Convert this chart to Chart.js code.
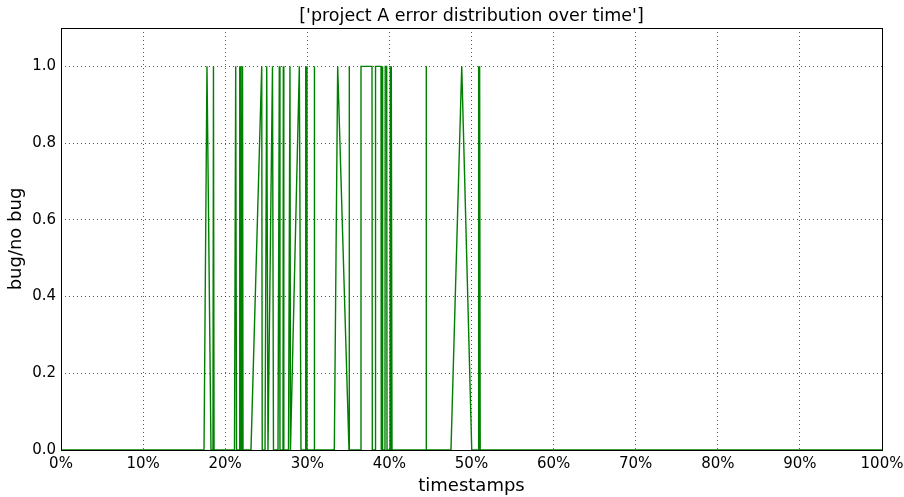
<!DOCTYPE html>
<html>
<head>
<meta charset="utf-8">
<script src="https://cdn.jsdelivr.net/npm/chart.js@4"></script>
<style>
  html, body { margin: 0; padding: 0; background: #fff; }
  #wrap { width: 904px; height: 497px; }
</style>
</head>
<body>
<div id="wrap"><canvas id="errChart" width="904" height="497"></canvas></div>
<script>
// timestamp position (% of time range) and bug flag (1 = bug, 0 = no bug)
const timestamps = [
  0, 17.42, 17.78, 18.27, 18.51, 18.57, 18.64,
  21.13, 21.28, 21.38, 21.72, 21.77, 21.86, 21.92, 22.05, 22.11, 22.17,
  23.14, 24.45, 24.51, 24.85, 25.06, 25.21, 25.76, 25.88,
  26.43, 26.59, 26.67, 27.04, 27.08, 27.14, 27.71, 27.89, 27.95,
  29.03, 29.23, 29.72, 29.78, 29.84, 29.90, 29.96,
  30.82, 30.85, 30.89, 33.29, 33.70, 35.08, 35.10, 35.13,
  36.50, 36.54, 37.88, 37.92, 38.25, 38.31, 38.98, 39.01, 39.10, 39.13, 39.22,
  39.46, 39.49, 39.67, 39.71, 40.07, 40.11, 40.19, 40.23, 40.32,
  44.46, 44.48, 44.51, 47.50, 48.81, 50.03,
  50.83, 50.87, 50.95, 50.99, 51.06, 100
];
const bugFlags = [
  0, 0, 1, 0, 0, 1, 0,
  0, 1, 0, 0, 1, 0, 1, 0, 1, 0,
  0, 1, 0, 0, 1, 0, 1, 0,
  0, 1, 0, 0, 1, 0, 0, 1, 0,
  1, 0, 0, 1, 0, 1, 0,
  0, 1, 0, 0, 1, 0, 1, 0,
  0, 1, 1, 0, 0, 1, 1, 0, 0, 1, 0,
  0, 1, 1, 0, 0, 1, 0, 1, 0,
  0, 1, 0, 0, 1, 0,
  0, 1, 0, 1, 0, 0
];
const xTicks = [0, 10, 20, 30, 40, 50, 60, 70, 80, 90, 100];
const yTicks = [0, 0.2, 0.4, 0.6, 0.8, 1.0];

const FONT = "'DejaVu Sans', sans-serif";

function setupChart() {
  let points = timestamps.map((t, i) => ({x: t, y: bugFlags[i]}));

  const frame = {
    id: 'frame',
    afterDraw(chart) {
      const a = chart.chartArea, c = chart.ctx;
      c.save();
      c.strokeStyle = '#000';
      c.lineWidth = 1;
      c.strokeRect(Math.round(a.left) + 0.5, Math.round(a.top) + 0.5,
                   Math.round(a.right - a.left), Math.round(a.bottom - a.top));
      c.restore();
    }
  };

  let ctx = document.getElementById('errChart');
  new Chart(ctx, {
    type: 'line',
    data: {
      datasets: [{
        label: 'bug',
        data: points,
        borderColor: '#008000',
        borderWidth: 1.4,
        pointRadius: 0,
        tension: 0,
        fill: false,
        clip: 4
      }]
    },
    options: {
      responsive: false,
      animation: { duration: 0 },
      layout: { padding: { left: 0, right: 22, top: 0, bottom: 0 } },
      plugins: {
        legend: { display: false },
        tooltip: { enabled: false },
        title: {
          display: true,
          fullSize: false,
          text: "['project A error distribution over time']",
          color: '#000',
          font: { family: FONT, size: 17.5, weight: 'normal', lineHeight: 1.2 },
          padding: { top: 6, bottom: 1 }
        }
      },
      scales: {
        x: {
          type: 'linear',
          min: 0,
          max: 100,
          afterBuildTicks: s => { s.ticks = xTicks.map(v => ({value: v})); },
          afterFit: s => { s.height = 47; s.paddingLeft = 0; s.paddingRight = 0; },
          ticks: {
            color: '#000',
            font: { family: FONT, size: 15 },
            padding: 5,
            maxRotation: 0,
            callback: v => v + '%'
          },
          grid: { color: 'rgba(0,0,0,0.65)', lineWidth: 1, drawTicks: false },
          border: { display: false, dash: [1, 3] },
          title: {
            display: true,
            text: 'timestamps',
            color: '#000',
            font: { family: FONT, size: 18 },
            padding: { top: 0, bottom: 0 }
          }
        },
        y: {
          min: 0,
          max: 1.1,
          afterBuildTicks: s => { s.ticks = yTicks.map(v => ({value: v})); },
          afterFit: s => { s.width = 61; },
          ticks: {
            color: '#000',
            font: { family: FONT, size: 15 },
            padding: 5,
            callback: v => v.toFixed(1)
          },
          grid: { color: 'rgba(0,0,0,0.65)', lineWidth: 1, drawTicks: false },
          border: { display: false, dash: [1, 3] },
          title: {
            display: true,
            text: 'bug/no bug',
            color: '#000',
            font: { family: FONT, size: 18 },
            padding: { top: 6, bottom: 0 }
          }
        }
      }
    },
    plugins: [frame]
  });
}

setupChart();
</script>
</body>
</html>
